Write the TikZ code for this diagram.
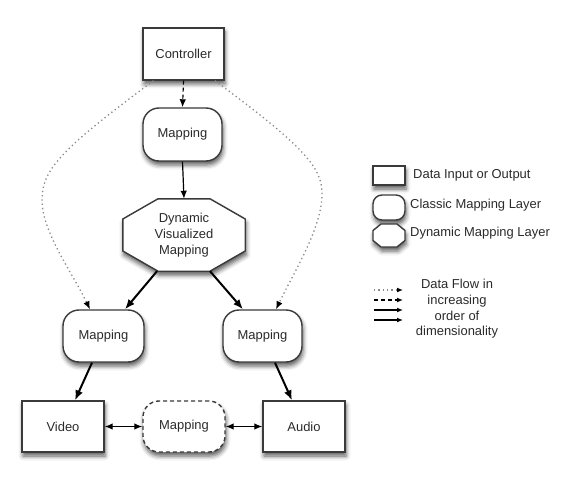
\documentclass[tikz,border=0pt]{standalone}
\usepackage{fontspec}
\setmainfont{Liberation Sans}
\usetikzlibrary{arrows.meta,calc,shadows.blur}
\definecolor{edgec}{HTML}{3A3A3A}
\definecolor{txtc}{HTML}{2A2A2A}
\definecolor{dotc}{HTML}{8A8A8A}
\begin{document}
\begin{tikzpicture}[x=1bp,y=-1bp,
  shd/.style={blur shadow={shadow xshift=1bp,shadow yshift=-4bp,shadow blur radius=4.5bp,shadow opacity=65}},
  lbl/.style={text=txtc,font=\fontsize{13}{16}\selectfont},
  base/.style={lbl,draw=edgec,line width=1.4bp,fill=white,inner sep=0pt,shd},
  databox/.style={base,rectangle},
  mapbox/.style={base,rounded corners=16bp},
  dynbox/.style={lbl,draw=none,fill=none,align=center,inner sep=0pt,minimum width=122bp,minimum height=72bp},
  thinarr/.style={draw=black,line width=1.2bp,-{Latex[length=8bp,width=6.5bp]}},
  thickarr/.style={draw=black,line width=2bp,-{Latex[length=10bp,width=8bp]}},
  twoway/.style={draw=black,line width=1.2bp,{Latex[length=8bp,width=6.5bp]}-{Latex[length=8bp,width=6.5bp]}},
  dotarr/.style={draw=dotc,line width=1.3bp,dash pattern=on 1.3bp off 3bp,-{Latex[length=8bp,width=6.5bp,color=black]}},
  dasharr/.style={draw=black,line width=1.2bp,dash pattern=on 4bp off 3bp,-{Latex[length=8bp,width=6.5bp]}},
  legtext/.style={lbl,anchor=west,inner sep=0pt}
]
\useasboundingbox (0,0) rectangle (565,484);

% main nodes
\node[databox,minimum width=81bp,minimum height=52bp] (ctrl) at (183.5,54) {Controller};
\node[mapbox,minimum width=79bp,minimum height=53bp] (map1) at (182.5,134.5) {Mapping};
\node[dynbox] (dyn) at (184,235) {};
\node[mapbox,minimum width=81bp,minimum height=52bp] (mapL) at (103.5,336) {Mapping};
\node[mapbox,minimum width=79bp,minimum height=52bp] (mapR) at (262.5,336) {Mapping};
\node[databox,minimum width=82bp,minimum height=51bp] (video) at (63,426.5) {Video};
\node[mapbox,dash pattern=on 4bp off 3bp,minimum width=82bp,minimum height=51bp] (mapB) at (184,426.5) {Mapping};
\node[databox,minimum width=82bp,minimum height=51bp] (audio) at (304,426.5) {Audio};

% octagon outline
\draw[draw=edgec,line width=1.4bp,fill=white,shd]
  ($(dyn.north)+(-26,0)$) -- ($(dyn.north)+(26,0)$) -- ($(dyn.east)+(0,-16)$) -- ($(dyn.east)+(0,16)$)
  -- ($(dyn.south)+(26,0)$) -- ($(dyn.south)+(-26,0)$) -- ($(dyn.west)+(0,16)$) -- ($(dyn.west)+(0,-16)$) -- cycle;
\node[dynbox] (dyntext) at (dyn) {Dynamic\\Visualized\\Mapping};

% connectors
\draw[dasharr] (ctrl.south) -- (map1.north);
\draw[thinarr] (map1.south) -- (dyn.north);
\draw[thickarr] ($(dyn.south)+(-27,0)$) -- ($(mapL.north)+(21.5,0)$);
\draw[thickarr] ($(dyn.south)+(26,0)$) -- ($(mapR.north)+(-19.5,0)$);
\draw[thickarr] ($(mapL.south)+(-11.5,0)$) -- ($(video.north)+(12,0)$);
\draw[thickarr] ($(mapR.south)+(12.5,0)$) -- ($(audio.north)+(-12,0)$);
\draw[twoway] (video.east) -- (mapB.west);
\draw[twoway] (mapB.east) -- (audio.west);
\draw[dotarr] ($(ctrl.south)+(-30,0)$) .. controls (60,150) and (42,170) .. (42,200)
  .. controls (42,232) and (72,272) .. ($(mapL.north)+(-13.5,0)$);
\draw[dotarr] ($(ctrl.south)+(31.5,0)$) .. controls (306,148) and (322,168) .. (322,194)
  .. controls (322,228) and (294,272) .. ($(mapR.north)+(13.5,0)$);

% legend shapes
\node[databox,minimum width=32bp,minimum height=19bp] (lg1) at (389,175.5) {};
\node[mapbox,rounded corners=9bp,minimum width=32bp,minimum height=25bp] (lg2) at (389,207.5) {};
\coordinate (lg3) at (389,235.5);
\draw[draw=edgec,line width=1.4bp,fill=white,shd]
  ($(lg3)+(-8,-11.5)$) -- ($(lg3)+(8,-11.5)$) -- ($(lg3)+(16,-5)$) -- ($(lg3)+(16,5)$)
  -- ($(lg3)+(8,11.5)$) -- ($(lg3)+(-8,11.5)$) -- ($(lg3)+(-16,5)$) -- ($(lg3)+(-16,-5)$) -- cycle;
\node[legtext] (t1) at (413,175) {Data Input or Output};
\node[legtext] (t2) at (410,205) {Classic Mapping Layer};
\node[legtext] (t3) at (410,233) {Dynamic Mapping Layer};

% legend flows
\coordinate (fa1) at (374,290); \coordinate (fb1) at (403,290);
\coordinate (fa2) at (374,300); \coordinate (fb2) at (403,300);
\coordinate (fa3) at (374,310); \coordinate (fb3) at (403,310);
\coordinate (fa4) at (374,320); \coordinate (fb4) at (403,320);
\draw[dotarr,-{Latex[length=6bp,width=5bp,color=black]}] (fa1) -- (fb1);
\draw[dasharr,-{Latex[length=6bp,width=5bp]}] (fa2) -- (fb2);
\draw[thinarr,-{Latex[length=6bp,width=5bp]}] (fa3) -- (fb3);
\draw[thickarr,-{Latex[length=6bp,width=5bp]}] (fa4) -- (fb4);
\node[lbl,align=center,inner sep=0pt,font=\fontsize{13}{15.7}\selectfont] (t4) at (457,309) {Data Flow in\\increasing\\order of\\dimensionality};
\end{tikzpicture}
\end{document}
